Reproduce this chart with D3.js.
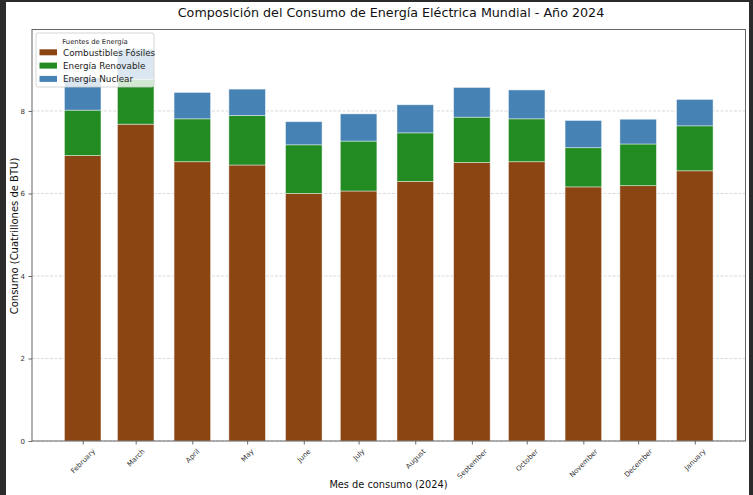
<!DOCTYPE html>
<html><head><meta charset="utf-8">
<script src="https://cdn.jsdelivr.net/npm/d3@7"></script>
<style>body{margin:0;background:#2b2b2b;} svg{display:block;font-family:"DejaVu Sans",sans-serif;}</style>
</head><body>
<svg id="c" width="753" height="495"></svg>
<script>
const months = ["February","March","April","May","June","July","August","September","October","November","December","January"];
const monthDates = ["2024-02-01","2024-03-01","2024-04-01","2024-05-01","2024-06-01","2024-07-01","2024-08-01","2024-09-01","2024-10-01","2024-11-01","2024-12-01","2025-01-01"];
const fossil    = [6.92, 7.68, 6.77, 6.69, 6.00, 6.06, 6.29, 6.75, 6.77, 6.16, 6.19, 6.55];
const renewable = [1.10, 1.09, 1.04, 1.20, 1.18, 1.21, 1.18, 1.10, 1.04, 0.95, 1.01, 1.09];
const nuclear   = [0.78, 0.73, 0.64, 0.64, 0.56, 0.66, 0.68, 0.72, 0.70, 0.66, 0.60, 0.64];
const seriesNames = ["Combustibles Fósiles","Energía Renovable","Energía Nuclear"];
const seriesColors = ["#8B4513","#228B22","#4682B4"];
const yTicks = [0,2,4,6,8];

const svg = d3.select("#c");
svg.append("rect").attr("x",6).attr("y",2).attr("width",743).attr("height",493).attr("fill","#fff");

const L=32, R=745.5, T=29.5, B=441;
const DAY = 864e5;
const dates = monthDates.map(s=>new Date(s+"T00:00:00Z"));
const barDays = 20;
const span = (dates[dates.length-1]-dates[0]) + barDays*DAY;
const pad = span*0.05 + barDays/2*DAY;
const x = d3.scaleUtc().domain([new Date(+dates[0]-pad), new Date(+dates[dates.length-1]+pad)]).range([L,R]);
const rows = months.map((m,i)=>({m, d:dates[i], s0:fossil[i], s1:renewable[i], s2:nuclear[i]}));
const stack = d3.stack().keys(["s0","s1","s2"])(rows);
const ymax = d3.max(rows, r=>r.s0+r.s1+r.s2)*1.05;
const y = d3.scaleLinear().domain([0,ymax]).range([B,T]);

// grid
svg.append("g").selectAll("line").data(yTicks).join("line")
  .attr("x1",L).attr("x2",R).attr("y1",d=>y(d)).attr("y2",d=>y(d))
  .attr("stroke","#b0b0b0").attr("stroke-opacity",0.6).attr("stroke-width",0.8).attr("stroke-dasharray","3,1.5");

// bars
const bw = x(new Date(+dates[0]+barDays*DAY)) - x(dates[0]);
svg.append("g").selectAll("g").data(stack).join("g").attr("fill",(d,i)=>seriesColors[i])
  .selectAll("rect").data(d=>d).join("rect")
  .attr("x",d=>x(d.data.d)-bw/2).attr("width",bw)
  .attr("y",d=>y(d[1])).attr("height",d=>y(d[0])-y(d[1]))
  .attr("stroke","#fff").attr("stroke-opacity",0.55).attr("stroke-width",0.8);

// axes
const yAxis = d3.axisLeft(y).tickValues(yTicks).tickFormat(d3.format("d")).tickSize(3.5).tickPadding(3.5);
const gy = svg.append("g").attr("transform",`translate(${L},0)`).call(yAxis);
gy.select(".domain").remove();
gy.selectAll("text").attr("font-size",7).attr("fill","#333").attr("font-family","DejaVu Sans");
gy.selectAll("line").attr("stroke","#444").attr("stroke-width",0.8);

const xAxis = d3.axisBottom(x).tickValues(dates).tickFormat((d,i)=>months[i]).tickSize(3.5);
const gx = svg.append("g").attr("transform",`translate(0,${B})`).call(xAxis);
gx.select(".domain").remove();
gx.selectAll("line").attr("stroke","#444").attr("stroke-width",0.8);
gx.selectAll("text").attr("font-size",7).attr("fill","#333").attr("font-family","DejaVu Sans")
  .attr("text-anchor","middle").attr("dy",null).attr("dominant-baseline","central")
  .each(function(){
    const len = this.getComputedTextLength();
    const h = (len+7)*Math.SQRT1_2;
    d3.select(this).attr("y",null).attr("transform",`translate(0,${7+h/2}) rotate(-45)`);
  });

// frame
svg.append("rect").attr("x",L).attr("y",T).attr("width",R-L).attr("height",B-T)
  .attr("fill","none").attr("stroke","#555").attr("stroke-width",0.9);

// title & labels
svg.append("text").attr("x",391).attr("y",17).attr("text-anchor","middle").attr("font-size",12.7).attr("fill","#111")
  .text("Composición del Consumo de Energía Eléctrica Mundial - Año 2024");
svg.append("text").attr("x",388.5).attr("y",488).attr("text-anchor","middle").attr("font-size",9.8).attr("fill","#111")
  .text("Mes de consumo (2024)");
svg.append("text").attr("transform",`translate(17.5,${236}) rotate(-90)`).attr("text-anchor","middle").attr("font-size",10).attr("fill","#111")
  .text("Consumo (Cuatrillones de BTU)");

// legend
const lg = svg.append("g");
lg.append("rect").attr("x",36).attr("y",33).attr("width",118).attr("height",54).attr("rx",2)
  .attr("fill","#fff").attr("fill-opacity",0.8).attr("stroke","#ccc").attr("stroke-width",0.8);
lg.append("text").attr("x",95).attr("y",43.5).attr("text-anchor","middle").attr("font-size",6.8).attr("fill","#222").text("Fuentes de Energía");
seriesNames.forEach((n,i)=>{
  const cy = 52.3 + i*13.3;
  lg.append("rect").attr("x",39.5).attr("y",cy-3).attr("width",17.5).attr("height",6).attr("fill",seriesColors[i]);
  lg.append("text").attr("x",63).attr("y",cy+3.3).attr("font-size",8.8).attr("fill","#222").text(n);
});
</script>
</body></html>
